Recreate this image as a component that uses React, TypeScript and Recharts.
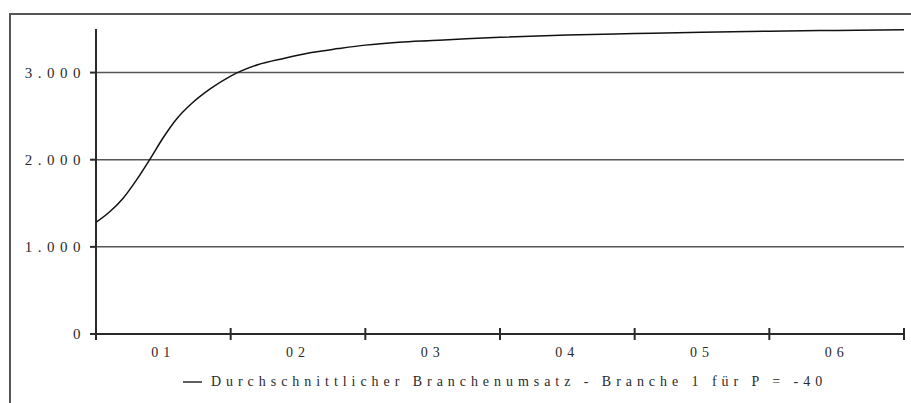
import { CartesianGrid, Legend, Line, LineChart, XAxis, YAxis } from "recharts";

// Zeit in Jahren ab Start, Durchschnittlicher Branchenumsatz
const TIME = [0, 0.1, 0.2, 0.3, 0.4, 0.5, 0.6, 0.7, 0.85, 1.0, 1.2, 1.4, 1.6, 1.8, 2.0, 2.25, 2.5, 2.75, 3.0, 3.5, 4.0, 4.5, 5.0, 5.5, 6.0];
const UMSATZ = [1282, 1400, 1555, 1765, 2005, 2255, 2470, 2630, 2815, 2960, 3090, 3165, 3230, 3275, 3315, 3348, 3368, 3388, 3405, 3430, 3448, 3464, 3475, 3484, 3490];

const YEARS = ["01", "02", "03", "04", "05", "06"];
const Y_TICKS = [0, 1000, 2000, 3000];
const GRID_VALUES = [1000, 2000, 3000];
const X_TICKS = [0, 0.5, 1, 1.5, 2, 2.5, 3, 3.5, 4, 4.5, 5, 5.5, 6];
const SERIES_NAME = "Durchschnittlicher Branchenumsatz - Branche 1 für P = -40";

const rows = TIME.map((t, i) => ({ t, umsatz: UMSATZ[i] }));

const FONT = "Liberation Serif, DejaVu Serif, serif";
const INK = "#2a2a2a";

function fmt(v: number): string {
  return String(v).replace(/\B(?=(\d{3})+(?!\d))/g, ".");
}

function XTick(props: any) {
  const { x, y, payload } = props;
  const v = payload.value as number;
  if (Number.isInteger(v)) {
    return <line x1={x} x2={x} y1={y - 6} y2={y + 6} stroke={INK} strokeWidth={2} />;
  }
  return (
    <text x={x} y={y + 23} textAnchor="middle" fontFamily={FONT} fontSize={14} letterSpacing={5} fill={INK}>
      {YEARS[Math.floor(v)]}
    </text>
  );
}

function YTick(props: any) {
  const { x, y, payload } = props;
  return (
    <text x={x} y={y + 5} textAnchor="end" fontFamily={FONT} fontSize={15} letterSpacing={5.5} fill={INK}>
      {fmt(payload.value)}
    </text>
  );
}

function LegendBox() {
  return (
    <div style={{ display: "flex", alignItems: "center", paddingLeft: 183, fontFamily: FONT, fontSize: 14, color: INK, letterSpacing: 4.95, whiteSpace: "nowrap" }}>
      <svg width={19} height={4} style={{ marginRight: 9 }}>
        <line x1={0} x2={19} y1={2} y2={2} stroke={INK} strokeWidth={1.5} />
      </svg>
      <span>{SERIES_NAME}</span>
    </div>
  );
}

export default function App() {
  return (
    <div style={{ position: "relative", width: 911, height: 403, background: "#fff", overflow: "hidden" }}>
      <style>{"html,body{margin:0;overflow:hidden}"}</style>
      <div
        style={{
          position: "absolute",
          left: 9,
          top: 13,
          right: 0,
          bottom: 0,
          borderTop: "2px solid #555",
          borderLeft: "2px solid #555",
        }}
      />
      <LineChart width={911} height={403} data={rows} margin={{ top: 29, right: 7, left: 10, bottom: 0 }}>
        <CartesianGrid
          horizontal
          vertical={false}
          horizontalValues={GRID_VALUES}
          stroke="#555"
          strokeWidth={1.5}
        />
        <XAxis
          dataKey="t"
          type="number"
          domain={[0, 6]}
          ticks={X_TICKS}
          interval={0}
          tick={<XTick />}
          tickLine={false}
          tickSize={0}
          tickMargin={0}
          height={40}
          axisLine={{ stroke: INK, strokeWidth: 2 }}
        />
        <YAxis
          domain={[0, 3500]}
          ticks={Y_TICKS}
          interval={0}
          width={86}
          tick={<YTick />}
          tickSize={6}
          tickMargin={4}
          tickLine={{ stroke: INK, strokeWidth: 2 }}
          axisLine={{ stroke: INK, strokeWidth: 2 }}
        />
        <Legend verticalAlign="bottom" height={29} wrapperStyle={{ left: 0, width: 911 }} content={<LegendBox />} />
        <Line
          dataKey="umsatz"
          name={SERIES_NAME}
          type="monotone"
          stroke="#111"
          strokeWidth={1.5}
          dot={false}
          isAnimationActive={false}
        />
      </LineChart>
    </div>
  );
}
